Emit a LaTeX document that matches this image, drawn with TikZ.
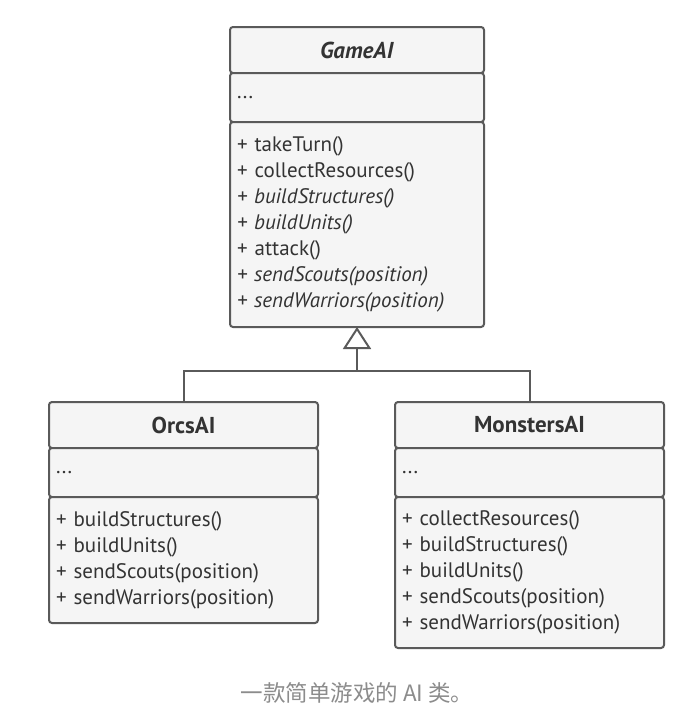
\documentclass[tikz,border=0pt]{standalone}
\usepackage{fontspec}
\setmainfont{PT Sans}
\newfontfamily\cjk{Noto Sans CJK SC}
\usetikzlibrary{arrows.meta,positioning}
\definecolor{umlLine}{HTML}{5A5A5A}
\definecolor{umlFill}{HTML}{F5F5F5}
\definecolor{umlText}{HTML}{333333}
\definecolor{capText}{HTML}{8C8C8C}
\tikzset{
  part/.style={draw=umlLine, fill=umlFill, line width=2pt, rounded corners=3pt,
    outer sep=0pt, inner xsep=7pt, inner ysep=0pt, text=umlText},
  head/.style={part, align=center, minimum height=46pt,
    font=\fontsize{23}{26}\selectfont\bfseries},
  attrs/.style={part, align=left, minimum height=49pt,
    font=\fontsize{21}{26}\selectfont},
  ops/.style={part, align=left, font=\fontsize{21}{26}\selectfont},
  link/.style={draw=umlLine, line width=2pt},
  inherit/.style={link, -{Triangle[fill=white, width=28pt, length=22pt, line join=miter]}}
}
\begin{document}
\begin{tikzpicture}[x=1pt, y=-1pt]
\useasboundingbox[fill=white] (0,0) rectangle (694,707);
% base class
\node[head, text width=240pt, anchor=north] (gameH) at (357,27) {\textit{GameAI}};
\node[attrs, text width=240pt, below=0pt of gameH] (gameA) {...};
\node[ops, text width=240pt, minimum height=205pt, below=0pt of gameA] (gameM) {%
  + takeTurn()\\
  + collectResources()\\
  \textit{+ buildStructures()}\\
  \textit{+ buildUnits()}\\
  + attack()\\
  \textit{+ sendScouts(position)}\\
  \textit{+ sendWarriors(position)}};
% subclasses
\node[head, text width=255pt, anchor=north] (orcsH) at (183.5,402) {OrcsAI};
\node[attrs, text width=255pt, below=0pt of orcsH] (orcsA) {...};
\node[ops, text width=255pt, minimum height=126pt, below=0pt of orcsA] (orcsM) {%
  + buildStructures()\\
  + buildUnits()\\
  + sendScouts(position)\\
  + sendWarriors(position)};
\node[head, text width=255pt, anchor=north] (monH) at (529.5,402) {MonstersAI};
\node[attrs, text width=255pt, below=0pt of monH] (monA) {...};
\node[ops, text width=255pt, minimum height=151pt, below=0pt of monA] (monM) {%
  + collectResources()\\
  + buildStructures()\\
  + buildUnits()\\
  + sendScouts(position)\\
  + sendWarriors(position)};
% inheritance
\coordinate (fork) at (357,371);
\draw[link] (orcsH.north) |- (fork) -| (monH.north);
\draw[inherit] (fork) -- (gameM.south);
% caption
\node[font=\cjk\fontsize{22.5}{27}\selectfont, text=capText] (caption) at (357,693) {一款简单游戏的 AI 类。};
\end{tikzpicture}
\end{document}
